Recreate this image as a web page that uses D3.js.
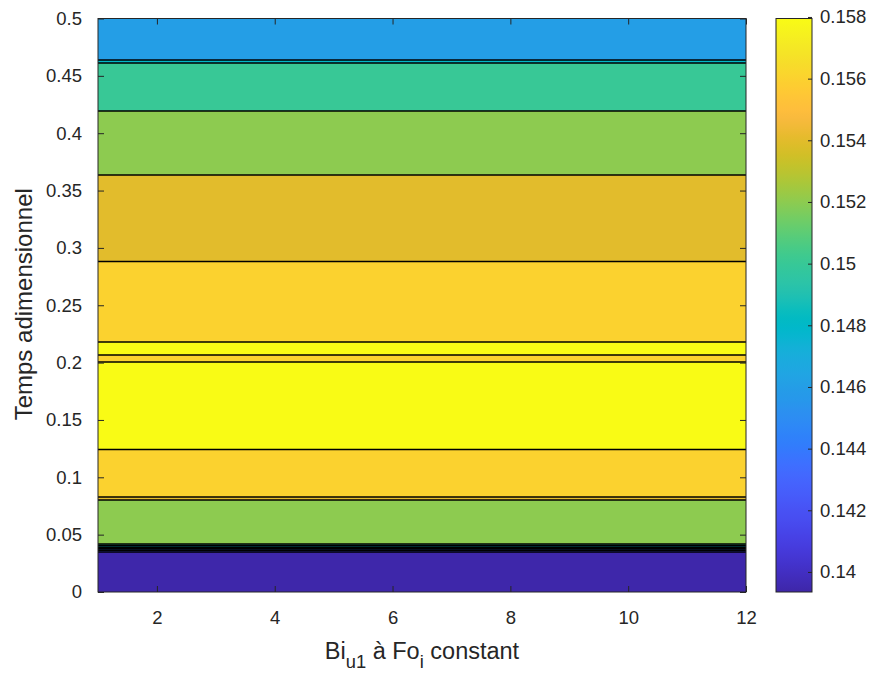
<!DOCTYPE html>
<html>
<head>
<meta charset="utf-8">
<script src="https://cdn.jsdelivr.net/npm/d3@7"></script>
<style>
  html, body { margin: 0; padding: 0; background: #ffffff; }
  svg { display: block; font-family: "Liberation Sans", Arial, Helvetica, sans-serif; }
</style>
</head>
<body>
<svg id="chart" width="874" height="673"></svg>
<script>
// ---------------- data ----------------
// x axis (Bi_u1) range and ticks
const xDomain = [1, 12];
const xTicks = [2, 4, 6, 8, 10, 12];
// y axis (Temps adimensionnel) range and ticks
const yDomain = [0, 0.5];
const yTicks = [0, 0.05, 0.1, 0.15, 0.2, 0.25, 0.3, 0.35, 0.4, 0.45, 0.5];
// horizontal contour bands: upper edge (time) of each band, from top to bottom
const bandTop = [0.5, 0.4638, 0.4612, 0.4193, 0.3635, 0.2881, 0.2180, 0.2066, 0.2005, 0.1242, 0.0828, 0.0802,
                 0.0418, 0.0404, 0.0390, 0.0376, 0.0363, 0.0349];
// fill level of each band
const bandLevel = [0.146, 0.148, 0.150, 0.152, 0.154, 0.156, 0.158, 0.156, 0.158, 0.156, 0.154, 0.152,
                   0.150, 0.148, 0.146, 0.144, 0.142, 0.1394];
// colorbar
const cDomain = [0.13935, 0.15795];
const cTicks = [0.14, 0.142, 0.144, 0.146, 0.148, 0.15, 0.152, 0.154, 0.156, 0.158];
// parula colormap (MATLAB)
const parula = [
[0.2422,0.1504,0.6603],[0.2504,0.1650,0.7076],[0.2578,0.1818,0.7511],[0.2647,0.1978,0.7952],
[0.2706,0.2147,0.8364],[0.2751,0.2342,0.8710],[0.2783,0.2559,0.8991],[0.2803,0.2782,0.9221],
[0.2813,0.3006,0.9414],[0.2810,0.3228,0.9579],[0.2795,0.3447,0.9717],[0.2760,0.3667,0.9829],
[0.2699,0.3892,0.9906],[0.2602,0.4123,0.9952],[0.2440,0.4358,0.9988],[0.2206,0.4603,0.9973],
[0.1963,0.4847,0.9892],[0.1834,0.5074,0.9798],[0.1786,0.5289,0.9682],[0.1764,0.5499,0.9520],
[0.1687,0.5703,0.9359],[0.1540,0.5902,0.9218],[0.1460,0.6091,0.9079],[0.1380,0.6276,0.8973],
[0.1248,0.6459,0.8883],[0.1113,0.6635,0.8763],[0.0952,0.6798,0.8598],[0.0689,0.6948,0.8394],
[0.0297,0.7082,0.8163],[0.0036,0.7203,0.7917],[0.0067,0.7312,0.7660],[0.0433,0.7411,0.7394],
[0.0964,0.7500,0.7120],[0.1408,0.7584,0.6842],[0.1717,0.7670,0.6554],[0.1938,0.7758,0.6251],
[0.2161,0.7843,0.5923],[0.2470,0.7918,0.5567],[0.2906,0.7973,0.5188],[0.3406,0.8008,0.4789],
[0.3909,0.8029,0.4354],[0.4456,0.8024,0.3909],[0.5044,0.7993,0.3480],[0.5616,0.7942,0.3045],
[0.6174,0.7876,0.2612],[0.6720,0.7793,0.2227],[0.7242,0.7698,0.1910],[0.7738,0.7598,0.1646],
[0.8203,0.7498,0.1535],[0.8634,0.7406,0.1596],[0.9035,0.7330,0.1774],[0.9393,0.7288,0.2100],
[0.9728,0.7298,0.2394],[0.9956,0.7434,0.2371],[0.9970,0.7659,0.2199],[0.9952,0.7893,0.2028],
[0.9892,0.8136,0.1885],[0.9786,0.8386,0.1766],[0.9676,0.8639,0.1643],[0.9610,0.8890,0.1537],
[0.9597,0.9135,0.1423],[0.9628,0.9373,0.1265],[0.9691,0.9606,0.1064],[0.9769,0.9839,0.0805]];

// ---------------- layout ----------------
const plot = { left: 98, right: 746, top: 18.5, bottom: 592 };
const cbar = { left: 776, right: 812 };
const axisColor = "#262626";
const tickFont = 18.5;
const labelFont = 23.5;

const svg = d3.select("#chart");
const x = d3.scaleLinear().domain(xDomain).range([plot.left, plot.right]);
const y = d3.scaleLinear().domain(yDomain).range([plot.bottom, plot.top]);
const cy = d3.scaleLinear().domain(cDomain).range([plot.bottom, plot.top]);

const parulaColors = parula.map(c => d3.rgb(c[0] * 255, c[1] * 255, c[2] * 255).formatHex());
const interp = d3.interpolateRgbBasis(parulaColors);
const color = d3.scaleSequential(v => interp(Math.max(0, Math.min(1, v)))).domain(cDomain);

// ---------------- bands ----------------
const bands = bandTop.map((t, i) => ({ top: t, bottom: i + 1 < bandTop.length ? bandTop[i + 1] : 0, level: bandLevel[i] }));
const g = svg.append("g");
g.selectAll("rect.band").data(bands).join("rect")
  .attr("class", "band")
  .attr("x", x(xDomain[0]))
  .attr("width", x(xDomain[1]) - x(xDomain[0]))
  .attr("y", d => y(d.top))
  .attr("height", d => y(d.bottom) - y(d.top))
  .attr("fill", d => color(d.level))
  .attr("shape-rendering", "crispEdges");

// contour lines at band boundaries
g.selectAll("line.contour").data(bandTop.slice(1)).join("line")
  .attr("class", "contour")
  .attr("x1", x(xDomain[0])).attr("x2", x(xDomain[1]))
  .attr("y1", d => y(d)).attr("y2", d => y(d))
  .attr("stroke", "#000").attr("stroke-width", 1.6);

// ---------------- axes ----------------
function styleAxis(sel) {
  sel.select(".domain").remove();
  sel.selectAll(".tick line").attr("stroke", axisColor).attr("stroke-width", 1);
  sel.selectAll(".tick text").attr("fill", axisColor).style("font-size", tickFont + "px")
     .style("font-family", '"Liberation Sans", Arial, sans-serif');
}
const fmt = d => d3.format("")(+d.toFixed(3));

const xAxis = svg.append("g").attr("transform", `translate(0,${plot.bottom})`)
  .call(d3.axisBottom(x).tickValues(xTicks).tickSizeInner(-6).tickSizeOuter(0).tickPadding(19));
styleAxis(xAxis);
const xAxisTop = svg.append("g").attr("transform", `translate(0,${plot.top})`)
  .call(d3.axisTop(x).tickValues(xTicks).tickSizeInner(-6).tickSizeOuter(0).tickFormat(""));
styleAxis(xAxisTop);

const yAxis = svg.append("g").attr("transform", `translate(${plot.left},0)`)
  .call(d3.axisLeft(y).tickValues(yTicks).tickSizeInner(-6).tickSizeOuter(0).tickPadding(16).tickFormat(fmt));
styleAxis(yAxis);
const yAxisRight = svg.append("g").attr("transform", `translate(${plot.right},0)`)
  .call(d3.axisRight(y).tickValues(yTicks).tickSizeInner(-6).tickSizeOuter(0).tickFormat(""));
styleAxis(yAxisRight);

// frame
svg.append("rect")
  .attr("x", plot.left).attr("y", plot.top)
  .attr("width", plot.right - plot.left).attr("height", plot.bottom - plot.top)
  .attr("fill", "none").attr("stroke", axisColor).attr("stroke-width", 1);

// axis labels
svg.append("text")
  .attr("transform", `translate(32,${(plot.top + plot.bottom) / 2 - 1}) rotate(-90)`)
  .attr("text-anchor", "middle")
  .attr("fill", axisColor)
  .style("font-size", (labelFont + 0.5) + "px")
  .text("Temps adimensionnel");

const xl = svg.append("text")
  .attr("x", 422)
  .attr("y", 659)
  .attr("text-anchor", "middle")
  .attr("fill", axisColor)
  .style("font-size", labelFont + "px");
xl.append("tspan").text("Bi");
xl.append("tspan").attr("dy", 9).style("font-size", (labelFont * 0.78) + "px").text("u1");
xl.append("tspan").attr("dy", -9).text(" à Fo");
xl.append("tspan").attr("dy", 9).style("font-size", (labelFont * 0.78) + "px").text("i");
xl.append("tspan").attr("dy", -9).text(" constant");

// ---------------- colorbar ----------------
const gradId = "parulaGrad";
const grad = svg.append("defs").append("linearGradient").attr("id", gradId)
  .attr("x1", 0).attr("y1", 1).attr("x2", 0).attr("y2", 0);
grad.selectAll("stop").data(parulaColors).join("stop")
  .attr("offset", (d, i) => i / (parulaColors.length - 1))
  .attr("stop-color", d => d);
svg.append("rect")
  .attr("x", cbar.left).attr("y", plot.top)
  .attr("width", cbar.right - cbar.left).attr("height", plot.bottom - plot.top)
  .attr("fill", `url(#${gradId})`)
  .attr("stroke", axisColor).attr("stroke-width", 1);
const cAxis = svg.append("g").attr("transform", `translate(${cbar.right},0)`)
  .call(d3.axisRight(cy).tickValues(cTicks).tickSizeInner(-4).tickSizeOuter(0).tickPadding(8).tickFormat(fmt));
styleAxis(cAxis);
</script>
</body>
</html>
